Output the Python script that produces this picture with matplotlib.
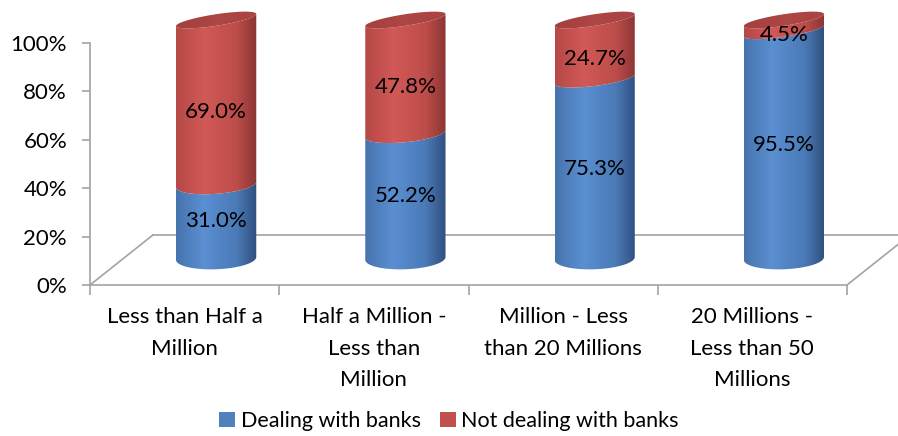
import numpy as np
import matplotlib
matplotlib.use("Agg")
import matplotlib.pyplot as plt
from matplotlib.colors import LinearSegmentedColormap
from matplotlib.patches import Polygon, Patch

categories = [
    "Less than Half a\nMillion",
    "Half a Million -\nLess than\nMillion",
    "Million - Less\nthan 20 Millions",
    "20 Millions -\nLess than 50\nMillions",
]
dealing = [31.0, 52.2, 75.3, 95.5]
not_dealing = [69.0, 47.8, 24.7, 4.5]
series_names = ["Dealing with banks", "Not dealing with banks"]
y_ticks = [0, 20, 40, 60, 80, 100]

plt.rcParams["font.family"] = ["Lato", "DejaVu Sans"]
FS = 16

# shading: left edge, highlight, right edge
blue_cm = LinearSegmentedColormap.from_list(
    "blue", [(0, "#4673AD"), (0.35, "#5B8FD2"), (0.75, "#4A7AB7"), (1, "#304F7E")])
red_cm = LinearSegmentedColormap.from_list(
    "red", [(0, "#B54846"), (0.35, "#D15957"), (0.75, "#BD4D4A"), (1, "#8A3533")])
cap_cm = LinearSegmentedColormap.from_list(
    "cap", [(0, "#A3403E"), (0.5, "#AD4644"), (1, "#A84442")])

W, H = 898, 436
fig = plt.figure(figsize=(W / 100, H / 100), dpi=100)
px_x, px_y = 189.25, 2.42
ax = fig.add_axes([90 / W, 151 / H, 4.35 * px_x / W, 118 * px_y / H])

depth_x, depth_y = 0.333, 20.7
cx_off, base, scale = depth_x / 2, 11.0, 0.985
half_w = 0.212
grey = "#A3A3A3"

# floor
ax.plot([0, depth_x], [0, depth_y], color=grey, lw=1.2, clip_on=False)
ax.plot([depth_x, 4 + depth_x], [depth_y, depth_y], color=grey, lw=1.2, clip_on=False)
ax.plot([4, 4 + depth_x], [0, depth_y], color=grey, lw=1.2, clip_on=False)


def ellipse(cx, level, t):
    # oblique view: rings get flatter and more tilted towards the top
    f = level / 100
    b = 4.5 + (2.4 - 4.5) * f
    s = 0.6 + (2.5 - 0.6) * f
    yc = base + scale * level
    return cx + half_w * np.cos(t), yc + b * np.sin(t) + s * np.cos(t)


def shade(verts, cmap, z):
    poly = Polygon(verts, closed=True, facecolor="none", edgecolor="none", zorder=z)
    ax.add_patch(poly)
    xs, ys = verts[:, 0], verts[:, 1]
    im = ax.imshow(np.linspace(0, 1, 256)[None, :], cmap=cmap, aspect="auto",
                   extent=[xs.min(), xs.max(), ys.min() - 1, ys.max() + 1],
                   interpolation="bilinear", zorder=z)
    im.set_clip_path(poly)


front = np.linspace(np.pi, 2 * np.pi, 80)
full = np.linspace(0, 2 * np.pi, 160)
for i, (d, nd) in enumerate(zip(dealing, not_dealing)):
    cx = i + 0.5 + cx_off
    start = 0.0
    for v, cmap, k in ((d, blue_cm, 0), (nd, red_cm, 1)):
        x0, y0 = ellipse(cx, start, front)
        x1, y1 = ellipse(cx, start + v, front[::-1])
        verts = np.column_stack([np.r_[x0, x1], np.r_[y0, y1]])
        shade(verts, cmap, 2 + i * 0.1 + k * 0.01)
        ly = base + scale * (start + v / 2)
        off = 0 if k == 0 else -10
        ax.annotate(f"{v:.1f}%", (cx, ly), xytext=(0, off), textcoords="offset pixels",
                    ha="center", va="center", fontsize=FS, color="black", zorder=5)
        start += v
    xc, yc = ellipse(cx, start, full)
    shade(np.column_stack([xc, yc]), cap_cm, 2 + i * 0.1 + 0.05)

ax.set_xlim(0, 4.35)
ax.set_ylim(0, 118)

for side in ("top", "right"):
    ax.spines[side].set_visible(False)
ax.spines["left"].set_bounds(0, 100)
ax.spines["bottom"].set_bounds(0, 4)
for side in ("left", "bottom"):
    ax.spines[side].set_color(grey)
    ax.spines[side].set_linewidth(1.2)

ax.set_yticks(y_ticks)
ax.set_yticklabels([f"{t}%" for t in y_ticks], fontsize=FS)
ax.tick_params(axis="y", length=6, width=1.2, color=grey, pad=10.5)
ax.set_xticks(range(5))
ax.set_xticklabels([""] * 5)
ax.tick_params(axis="x", which="major", length=7, width=1.2, color=grey)
ax.set_xticks(np.arange(4) + 0.5, minor=True)
ax.set_xticklabels(categories, minor=True, fontsize=FS, linespacing=1.72)
ax.tick_params(axis="x", which="minor", length=0, pad=16)

handles = [Patch(facecolor="#4F81BD"), Patch(facecolor="#C0504D")]
fig.legend(handles, series_names, loc="center", bbox_to_anchor=(0.5, 15 / H),
           ncol=2, frameon=False, fontsize=15.5, handlelength=0.75, handleheight=0.75,
           handletextpad=0.25, columnspacing=0.9)

fig.savefig("out.png", dpi=100)
